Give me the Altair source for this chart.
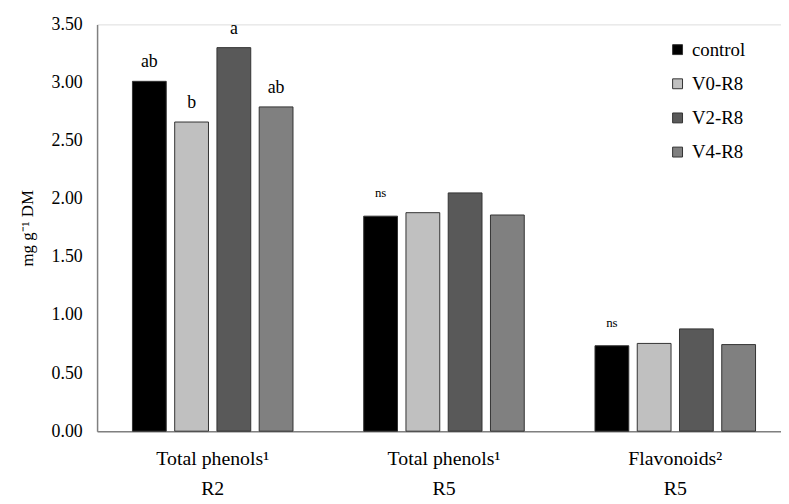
import altair as alt
import pandas as pd

groups = ["Total phenols¹\nR2", "Total phenols¹\nR5", "Flavonoids²\nR5"]
treatments = ["control", "V0-R8", "V2-R8", "V4-R8"]
colors = ["#000000", "#c0c0c0", "#595959", "#808080"]
values = {
    "control": [3.01, 1.85, 0.735],
    "V0-R8": [2.66, 1.88, 0.755],
    "V2-R8": [3.30, 2.05, 0.88],
    "V4-R8": [2.79, 1.86, 0.745],
}
letters = {
    "control": ["ab", "ns", "ns"],
    "V0-R8": ["b", "", ""],
    "V2-R8": ["a", "", ""],
    "V4-R8": ["ab", "", ""],
}

rows = []
for t in treatments:
    for i, g in enumerate(groups):
        rows.append({"group": g, "treatment": t, "value": values[t][i],
                     "letter": letters[t][i], "small": letters[t][i] == "ns"})
df = pd.DataFrame(rows)

FONT = "Liberation Serif"

x = alt.X("group:N", sort=groups, title=None,
          scale=alt.Scale(paddingInner=0, paddingOuter=0),
          axis=alt.Axis(labelAngle=0, labelExpr="split(datum.label, '\\n')",
                        labelLineHeight=30, labelFontSize=20, labelFont=FONT,
                        labelColor="#000", labelPadding=18, ticks=False,
                        domainColor="#808080", domainWidth=1.5))
xo = alt.XOffset("treatment:N", sort=treatments,
                 scale=alt.Scale(paddingInner=0.2, paddingOuter=0.837))
y = alt.Y("value:Q", title="mg g⁻¹ DM",
          scale=alt.Scale(domain=[0, 3.5]),
          axis=alt.Axis(values=[0, 0.5, 1, 1.5, 2, 2.5, 3, 3.5], format=".2f",
                        grid=False, ticks=False, labelFontSize=18, labelFont=FONT,
                        labelColor="#000", labelPadding=15,
                        titleFont=FONT, titleFontSize=17, titleFontWeight="normal",
                        titleColor="#000", titlePadding=15,
                        domainColor="#808080", domainWidth=1.5))

bars = alt.Chart(df).mark_bar(stroke="#333333", strokeWidth=1).encode(
    x=x, xOffset=xo, y=y,
    color=alt.Color("treatment:N", sort=treatments,
                    scale=alt.Scale(domain=treatments, range=colors),
                    legend=alt.Legend(title=None, orient="none", legendX=577, legendY=16,
                                      symbolType="square", symbolSize=100,
                                      symbolStrokeColor="#333", symbolStrokeWidth=1,
                                      labelFont=FONT, labelFontSize=19, labelOffset=5,
                                      labelColor="#000", rowPadding=14.5, padding=0)),
)

txt_big = alt.Chart(df[(df.letter != "") & (~df.small)]).mark_text(
    dy=-19, font=FONT, fontSize=18, color="#000").encode(
    x=alt.X("group:N", sort=groups), xOffset=alt.XOffset("treatment:N", sort=treatments),
    y="value:Q", text="letter:N")
txt_small = alt.Chart(df[df.small]).mark_text(
    dy=-23, font=FONT, fontSize=13, color="#000").encode(
    x=alt.X("group:N", sort=groups), xOffset=alt.XOffset("treatment:N", sort=treatments),
    y="value:Q", text="letter:N")

chart = alt.layer(bars, txt_big, txt_small).properties(
    width=701, height=411,
    autosize=alt.AutoSizeParams(type="none"),
    padding={"left": 90, "top": 14, "right": -10, "bottom": 70},
).configure_view(stroke=None).configure(background="white")

chart.save("out.html", embed_options={"renderer": "svg", "actions": False})
